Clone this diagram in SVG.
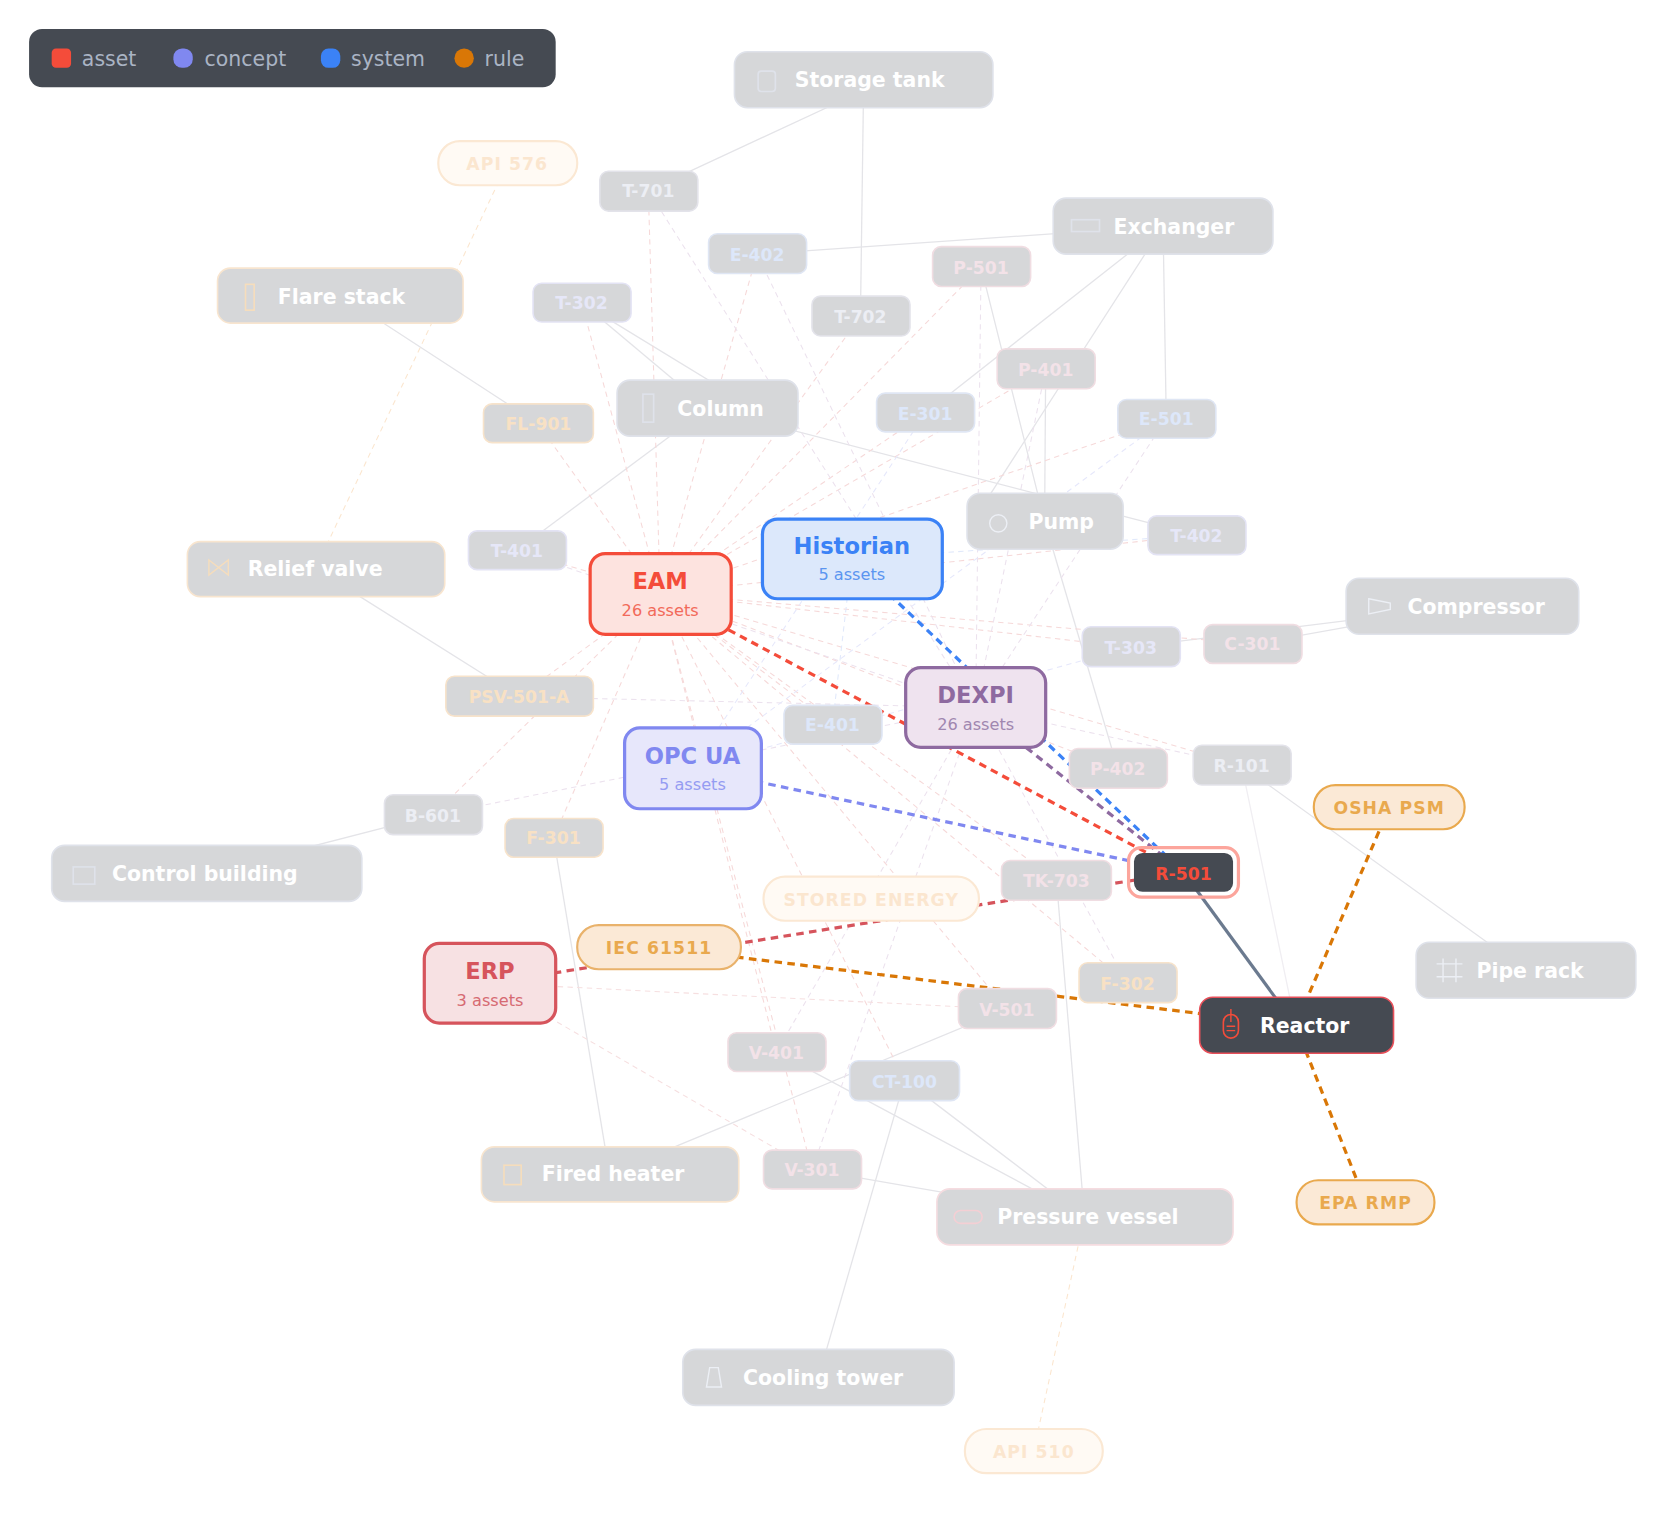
<svg xmlns="http://www.w3.org/2000/svg" width="1680" height="1518" viewBox="0 0 1680 1518">
<style>
text{font-family:"DejaVu Sans","Liberation Sans",sans-serif}
.eq rect{fill:#d6d7d9;stroke:#dfe2ea;stroke-width:1.5}
.eq text{fill:#fff;font-size:19px;font-weight:bold}
.tag rect{fill:#d6d7d9;stroke-width:1.5}
.tag text{font-size:16px;font-weight:bold;text-anchor:middle}
.rl rect{stroke-width:2}
.rl text{font-size:16px;font-weight:bold;text-anchor:middle;letter-spacing:1px}
.sys rect{stroke-width:3}
.sys .t{font-size:21px;font-weight:bold;text-anchor:middle}
.sys .s{font-size:15px;text-anchor:middle}
.fe{stroke:#e4e4e8;stroke-width:1.2;fill:none}
.fd{stroke:#f6d9d9;stroke-width:1;stroke-dasharray:5 4;fill:none}
.ad{stroke-width:3;stroke-dasharray:7 5;fill:none}
.ic{fill:none;stroke:#eceff5;stroke-width:1.3}
</style>
<rect width="1680" height="1518" fill="#fff"/>
<g transform="scale(1.0769)">
<g id="connectors">
<g class="fe">
<line x1="815" y1="78" x2="602" y2="177"/><line x1="802" y1="74" x2="799" y2="294"/>
<line x1="1080" y1="210" x2="703" y2="236"/><line x1="1080" y1="210" x2="859" y2="384"/><line x1="1080" y1="210" x2="1083" y2="389"/><line x1="1080" y1="210" x2="906" y2="480"/>
<line x1="316" y1="274" x2="499" y2="393"/>
<line x1="657" y1="379" x2="540" y2="281"/><line x1="657" y1="379" x2="480" y2="511"/><line x1="657" y1="379" x2="1111" y2="497"/><line x1="540" y1="281" x2="735" y2="400"/>
<line x1="970" y1="484" x2="971" y2="343"/><line x1="970" y1="484" x2="911" y2="248"/><line x1="970" y1="484" x2="1038" y2="714"/>
<line x1="293" y1="528" x2="482" y2="647"/>
<line x1="1358" y1="563" x2="1163" y2="598"/><line x1="1358" y1="563" x2="1050" y2="601"/>
<line x1="192" y1="811" x2="402" y2="757"/>
<line x1="1417" y1="901" x2="1153" y2="711"/>
<line x1="566" y1="1090" x2="514" y2="778"/><line x1="566" y1="1090" x2="935" y2="937"/>
<line x1="1007" y1="1130" x2="754" y2="1086"/><line x1="1007" y1="1130" x2="721" y2="977"/><line x1="1007" y1="1130" x2="981" y2="817"/><line x1="1007" y1="1130" x2="840" y2="1003"/>
<line x1="760" y1="1279" x2="840" y2="1003"/>
<line x1="1203" y1="952" x2="1153" y2="711" stroke="#f0eef2"/>
</g>
<g class="fd">
<line x1="471" y1="152" x2="293" y2="528" stroke="#fbe6cf"/><line x1="960" y1="1347" x2="1007" y2="1130" stroke="#fbe6cf"/>
<line x1="613" y1="551" x2="602" y2="177"/><line x1="613" y1="551" x2="703" y2="236"/><line x1="613" y1="551" x2="911" y2="248"/>
<line x1="613" y1="551" x2="540" y2="281"/><line x1="613" y1="551" x2="799" y2="294"/><line x1="613" y1="551" x2="971" y2="343"/>
<line x1="613" y1="551" x2="499" y2="393"/><line x1="613" y1="551" x2="859" y2="384"/><line x1="613" y1="551" x2="1083" y2="389"/>
<line x1="613" y1="551" x2="1111" y2="497"/><line x1="613" y1="551" x2="480" y2="511"/><line x1="613" y1="551" x2="1050" y2="601"/>
<line x1="613" y1="551" x2="1163" y2="598"/><line x1="613" y1="551" x2="482" y2="647"/><line x1="613" y1="551" x2="773" y2="673"/>
<line x1="613" y1="551" x2="1038" y2="714"/><line x1="613" y1="551" x2="1153" y2="711"/><line x1="613" y1="551" x2="402" y2="757"/>
<line x1="613" y1="551" x2="514" y2="778"/><line x1="613" y1="551" x2="981" y2="817"/><line x1="613" y1="551" x2="1047" y2="913"/>
<line x1="613" y1="551" x2="935" y2="937"/><line x1="613" y1="551" x2="721" y2="977"/><line x1="613" y1="551" x2="840" y2="1003"/>
<line x1="613" y1="551" x2="754" y2="1086"/>
<line x1="906" y1="657" x2="602" y2="177" stroke="#ece2ee"/><line x1="906" y1="657" x2="703" y2="236" stroke="#ece2ee"/><line x1="906" y1="657" x2="911" y2="248" stroke="#ece2ee"/>
<line x1="906" y1="657" x2="971" y2="343" stroke="#ece2ee"/><line x1="906" y1="657" x2="1083" y2="389" stroke="#ece2ee"/><line x1="906" y1="657" x2="480" y2="511" stroke="#ece2ee"/>
<line x1="906" y1="657" x2="482" y2="647" stroke="#ece2ee"/><line x1="906" y1="657" x2="1153" y2="711" stroke="#ece2ee"/><line x1="906" y1="657" x2="721" y2="977" stroke="#ece2ee"/>
<line x1="906" y1="657" x2="754" y2="1086" stroke="#ece2ee"/><line x1="906" y1="657" x2="1047" y2="913" stroke="#ece2ee"/><line x1="906" y1="657" x2="402" y2="757" stroke="#ece2ee"/>
<line x1="643" y1="713" x2="859" y2="384" stroke="#e6e8fb"/><line x1="643" y1="713" x2="1083" y2="389" stroke="#e6e8fb"/><line x1="643" y1="713" x2="1050" y2="601" stroke="#e6e8fb"/>
<line x1="791" y1="519" x2="1111" y2="497" stroke="#e1e9fb"/><line x1="791" y1="519" x2="773" y2="673" stroke="#e1e9fb"/>
<line x1="455" y1="913" x2="935" y2="937" stroke="#f6dfe0"/><line x1="455" y1="913" x2="754" y2="1086" stroke="#f6dfe0"/>
</g>
<line class="ad" x1="791" y1="519" x2="1099" y2="810" stroke="#3b82f6"/>
<line class="ad" x1="613" y1="551" x2="1099" y2="810" stroke="#f44c3a"/>
<line class="ad" x1="906" y1="657" x2="1099" y2="810" stroke="#8e6aa0"/>
<line class="ad" x1="643" y1="713" x2="1099" y2="810" stroke="#8088f0"/>
<line class="ad" x1="455" y1="913" x2="1099" y2="810" stroke="#d6545c"/>
<line x1="1099" y1="810" x2="1203" y2="952" stroke="#6b7a8f" stroke-width="3"/>
<line class="ad" x1="612" y1="880" x2="1203" y2="952" stroke="#d97706"/>
<line class="ad" x1="1290" y1="750" x2="1203" y2="952" stroke="#d97706"/>
<line class="ad" x1="1268" y1="1116" x2="1203" y2="952" stroke="#d97706"/>
</g>

<g id="legend">
<rect x="27" y="27" width="489" height="54" rx="12" fill="#454a52"/>
<rect x="48" y="45" width="18" height="18" rx="4" fill="#f44c3a"/><text x="76" y="61" font-size="19" fill="#aab4c4">asset</text>
<rect x="161" y="45" width="18" height="18" rx="8" fill="#8088f0"/><text x="190" y="61" font-size="19" fill="#aab4c4">concept</text>
<rect x="298" y="45" width="18" height="18" rx="7" fill="#3b82f6"/><text x="326" y="61" font-size="19" fill="#aab4c4">system</text>
<rect x="422" y="45" width="18" height="18" rx="9" fill="#d97706"/><text x="450" y="61" font-size="19" fill="#aab4c4">rule</text>
</g>

<g id="n-storage" class="eq"><rect x="682" y="48" width="240" height="52" rx="12"/><rect class="ic" x="704" y="66" width="16" height="19" rx="3"/><text x="738" y="81">Storage tank</text></g>
<g id="n-exchanger" class="eq"><rect x="978" y="184" width="204" height="52" rx="12"/><rect class="ic" x="995" y="204" width="26" height="11"/><text x="1034" y="217">Exchanger</text></g>
<g id="n-flare" class="eq"><rect x="202" y="249" width="228" height="51" rx="12" style="stroke:#f8e5cf"/><rect class="ic" x="228" y="264" width="8" height="24" style="stroke:#f6ddbc"/><text x="258" y="282">Flare stack</text></g>
<g id="n-column" class="eq"><rect x="573" y="353" width="168" height="52" rx="12"/><rect class="ic" x="597" y="366" width="10" height="26"/><text x="629" y="386">Column</text></g>
<g id="n-pump" class="eq"><rect x="898" y="458" width="145" height="52" rx="12"/><circle class="ic" cx="927" cy="486" r="8"/><text x="955" y="491">Pump</text></g>
<g id="n-relief" class="eq"><rect x="174" y="503" width="239" height="51" rx="12" style="stroke:#f8e5cf"/><path class="ic" d="M194 520l18 14v-14l-18 14z" style="stroke:#f6ddbc"/><text x="230" y="535">Relief valve</text></g>
<g id="n-compressor" class="eq"><rect x="1250" y="537" width="216" height="52" rx="12"/><path class="ic" d="M1271 556l20 4v6l-20 4z"/><text x="1307" y="570">Compressor</text></g>
<g id="n-control" class="eq"><rect x="48" y="785" width="288" height="52" rx="12"/><rect class="ic" x="68" y="805" width="20" height="16"/><text x="104" y="818">Control building</text></g>
<g id="n-piperack" class="eq"><rect x="1315" y="875" width="204" height="52" rx="12"/><path class="ic" d="M1334 895h24M1334 907h24M1340 890v22M1352 890v22"/><text x="1371" y="908">Pipe rack</text></g>
<g id="n-fired" class="eq"><rect x="447" y="1065" width="239" height="51" rx="12" style="stroke:#f8e5cf"/><rect class="ic" x="468" y="1082" width="16" height="18" style="stroke:#f6ddbc"/><text x="503" y="1097">Fired heater</text></g>
<g id="n-pvessel" class="eq"><rect x="870" y="1104" width="275" height="52" rx="12" style="stroke:#f5dce0"/><rect class="ic" x="886" y="1124" width="26" height="12" rx="6" style="stroke:#f4cfd4"/><text x="926" y="1137">Pressure vessel</text></g>
<g id="n-cooling" class="eq"><rect x="634" y="1253" width="252" height="52" rx="12"/><path class="ic" d="M656 1288l3-18h8l3 18z"/><text x="690" y="1286">Cooling tower</text></g>

<g id="t-T701" class="tag"><rect x="557" y="159" width="91" height="37" rx="8" stroke="#e3e3ea"/><text x="602" y="183" fill="#eceef4">T-701</text></g>
<g id="t-E402" class="tag"><rect x="658" y="217" width="91" height="37" rx="8" stroke="#dfe6f4"/><text x="703" y="242" fill="#dde7fa">E-402</text></g>
<g id="t-P501" class="tag"><rect x="866" y="229" width="91" height="37" rx="8" stroke="#f0dde2"/><text x="911" y="254" fill="#f3e2e8">P-501</text></g>
<g id="t-T302" class="tag"><rect x="495" y="263" width="91" height="36" rx="8" stroke="#e3e3f4"/><text x="540" y="287" fill="#e6e7f8">T-302</text></g>
<g id="t-T702" class="tag"><rect x="754" y="275" width="91" height="37" rx="8" stroke="#e3e3ea"/><text x="799" y="300" fill="#eceef4">T-702</text></g>
<g id="t-P401" class="tag"><rect x="926" y="324" width="91" height="37" rx="8" stroke="#f0dde2"/><text x="971" y="349" fill="#f3e2e8">P-401</text></g>
<g id="t-FL901" class="tag"><rect x="449" y="375" width="102" height="36" rx="8" stroke="#f7e3cb"/><text x="500" y="399" fill="#f8e1c4">FL-901</text></g>
<g id="t-E301" class="tag"><rect x="814" y="365" width="91" height="36" rx="8" stroke="#dfe6f4"/><text x="859" y="390" fill="#dde7fa">E-301</text></g>
<g id="t-E501" class="tag"><rect x="1038" y="371" width="91" height="36" rx="8" stroke="#dfe6f4"/><text x="1083" y="395" fill="#dde7fa">E-501</text></g>
<g id="t-T402" class="tag"><rect x="1066" y="479" width="91" height="36" rx="8" stroke="#e3e3f4"/><text x="1111" y="503" fill="#e6e7f8">T-402</text></g>
<g id="t-T401" class="tag"><rect x="435" y="493" width="91" height="36" rx="8" stroke="#e3e3f4"/><text x="480" y="517" fill="#e6e7f8">T-401</text></g>
<g id="t-T303" class="tag"><rect x="1005" y="582" width="91" height="37" rx="8" stroke="#e3e3f4"/><text x="1050" y="607" fill="#e6e7f8">T-303</text></g>
<g id="t-C301" class="tag"><rect x="1118" y="580" width="91" height="36" rx="8" stroke="#f0dde2"/><text x="1163" y="604" fill="#f3e2e8">C-301</text></g>
<g id="t-PSV" class="tag"><rect x="414" y="628" width="137" height="37" rx="8" stroke="#f7e3cb"/><text x="482" y="653" fill="#f8e1c4">PSV-501-A</text></g>
<g id="t-E401" class="tag"><rect x="728" y="655" width="91" height="36" rx="8" stroke="#dfe6f4"/><text x="773" y="679" fill="#dde7fa">E-401</text></g>
<g id="t-P402" class="tag"><rect x="993" y="695" width="91" height="37" rx="8" stroke="#f0dde2"/><text x="1038" y="720" fill="#f3e2e8">P-402</text></g>
<g id="t-R101" class="tag"><rect x="1108" y="692" width="91" height="37" rx="8" stroke="#e3e3ea"/><text x="1153" y="717" fill="#eceef4">R-101</text></g>
<g id="t-B601" class="tag"><rect x="357" y="738" width="91" height="37" rx="8" stroke="#e3e3ea"/><text x="402" y="763" fill="#eceef4">B-601</text></g>
<g id="t-F301" class="tag"><rect x="469" y="760" width="91" height="36" rx="8" stroke="#f7e3cb"/><text x="514" y="784" fill="#f8e1c4">F-301</text></g>
<g id="t-TK703" class="tag"><rect x="930" y="799" width="102" height="37" rx="8" stroke="#f0dde2"/><text x="981" y="824" fill="#f3e2e8">TK-703</text></g>
<g id="t-F302" class="tag"><rect x="1002" y="894" width="91" height="37" rx="8" stroke="#f7e3cb"/><text x="1047" y="919" fill="#f8e1c4">F-302</text></g>
<g id="t-V501" class="tag"><rect x="890" y="918" width="91" height="37" rx="8" stroke="#f0dde2"/><text x="935" y="943" fill="#f3e2e8">V-501</text></g>
<g id="t-V401" class="tag"><rect x="676" y="959" width="91" height="36" rx="8" stroke="#f0dde2"/><text x="721" y="983" fill="#f3e2e8">V-401</text></g>
<g id="t-CT100" class="tag"><rect x="789" y="985" width="102" height="37" rx="8" stroke="#dfe6f4"/><text x="840" y="1010" fill="#dde7fa">CT-100</text></g>
<g id="t-V301" class="tag"><rect x="709" y="1068" width="91" height="36" rx="8" stroke="#f0dde2"/><text x="754" y="1092" fill="#f3e2e8">V-301</text></g>

<g id="r-API576" class="rl"><rect x="407" y="131" width="129" height="41" rx="20" fill="#fffaf4" stroke="#fbe8d3"/><text x="471" y="158" fill="#fbe6cf">API 576</text></g>
<g id="r-STORED" class="rl"><rect x="709" y="814" width="200" height="41" rx="20" fill="#fffaf4" stroke="#fbe8d3"/><text x="809" y="841" fill="#fbe6cf">STORED ENERGY</text></g>
<g id="r-API510" class="rl"><rect x="896" y="1327" width="128" height="41" rx="20" fill="#fffaf4" stroke="#fbe8d3"/><text x="960" y="1354" fill="#fbe6cf">API 510</text></g>
<g id="r-IEC" class="rl"><rect x="536" y="859" width="152" height="41" rx="20" fill="#fbe9d6" stroke="#e9b26b"/><text x="612" y="886" fill="#e9a94e">IEC 61511</text></g>
<g id="r-OSHA" class="rl"><rect x="1220" y="729" width="140" height="41" rx="20" fill="#fbe9d6" stroke="#e9a94e"/><text x="1290" y="756" fill="#e9a94e">OSHA PSM</text></g>
<g id="r-EPA" class="rl"><rect x="1204" y="1096" width="128" height="41" rx="20" fill="#fbe9d6" stroke="#e9a94e"/><text x="1268" y="1123" fill="#e9a94e">EPA RMP</text></g>

<g id="s-historian" class="sys"><rect x="708" y="482" width="167" height="74" rx="14" fill="#dce8fb" stroke="#3b82f6"/><text class="t" x="791" y="514" fill="#3b82f6">Historian</text><text class="s" x="791" y="539" fill="#5b95f0">5 assets</text></g>
<g id="s-eam" class="sys"><rect x="548" y="514" width="131" height="75" rx="14" fill="#fde3df" stroke="#f44c3a"/><text class="t" x="613" y="547" fill="#f44c3a">EAM</text><text class="s" x="613" y="572" fill="#f26a5a">26 assets</text></g>
<g id="s-dexpi" class="sys"><rect x="841" y="620" width="130" height="74" rx="14" fill="#efe3ef" stroke="#8e6aa0"/><text class="t" x="906" y="653" fill="#8e6aa0">DEXPI</text><text class="s" x="906" y="678" fill="#a087b0">26 assets</text></g>
<g id="s-opcua" class="sys"><rect x="580" y="676" width="127" height="75" rx="14" fill="#e7e7fb" stroke="#8088f0"/><text class="t" x="643" y="709" fill="#8088f0">OPC UA</text><text class="s" x="643" y="734" fill="#959cf2">5 assets</text></g>
<g id="s-erp" class="sys"><rect x="394" y="876" width="122" height="74" rx="14" fill="#f7e1e3" stroke="#d6545c"/><text class="t" x="455" y="909" fill="#d6545c">ERP</text><text class="s" x="455" y="934" fill="#d66a72">3 assets</text></g>

<g id="n-R501"><rect x="1048" y="787" width="102" height="46" rx="12" fill="none" stroke="#fca59c" stroke-width="3"/><rect x="1053" y="792" width="92" height="36" rx="8" fill="#454a52"/><text x="1099" y="817" font-size="16" font-weight="bold" fill="#f44c3a" text-anchor="middle">R-501</text></g>
<g id="n-reactor"><rect x="1114" y="926" width="180" height="52" rx="12" fill="#454a52" stroke="#e8505a" stroke-width="1.5"/><rect x="1136" y="942" width="14" height="22" rx="7" fill="none" stroke="#f44c3a" stroke-width="1.5"/><path d="M1143 937v12M1139 953h8M1139 957h8" stroke="#f44c3a" stroke-width="1.3"/><text x="1170" y="959" font-size="19" font-weight="bold" fill="#fff">Reactor</text></g>
</g>
</svg>
